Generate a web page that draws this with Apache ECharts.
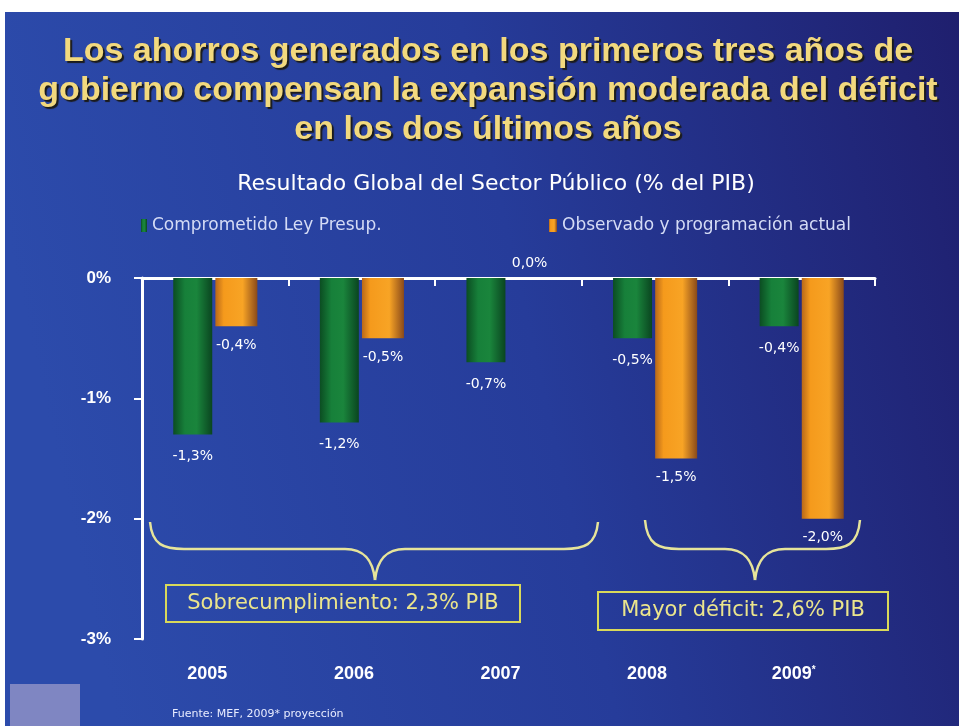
<!DOCTYPE html>
<html>
<head>
<meta charset="utf-8">
<script src="https://cdn.jsdelivr.net/npm/echarts@6/dist/echarts.min.js"></script>
<style>
html, body { margin: 0; padding: 0; background: #fff; }
#chart { width: 959px; height: 726px; }
</style>
</head>
<body>
<div id="chart"></div>
<script>
// data
var years = ['2005', '2006', '2007', '2008', '2009*'];
var comprometido = [-1.3, -1.2, -0.7, -0.5, -0.4];
var observado = [-0.4, -0.5, 0.0, -1.5, -2.0];
var yTicks = [0, -1, -2, -3];

var chart = echarts.init(document.getElementById('chart'));
var wide = '"DejaVu Sans", Verdana, sans-serif';
var arial = '"Liberation Sans", Arial, sans-serif';

function pct(v) {
    return v.toFixed(1).replace('.', ',') + '%';
}

// curly brace built from bezier pieces (annotation only)
function brace(xa, xb, xm, yTop, yMid, yTip) {
    var st = { stroke: '#e6e49a', lineWidth: 2.5, fill: null };
    return [
        { type: 'bezierCurve', shape: { x1: xa, y1: yTop, cpx1: xa + 2, cpy1: yMid - 4, cpx2: xa + 14, cpy2: yMid, x2: xa + 34, y2: yMid }, style: st },
        { type: 'line', shape: { x1: xa + 34, y1: yMid, x2: xm - 30, y2: yMid }, style: st },
        { type: 'bezierCurve', shape: { x1: xm - 30, y1: yMid, cpx1: xm - 10, cpy1: yMid, cpx2: xm - 2, cpy2: yMid + 12, x2: xm, y2: yTip }, style: st },
        { type: 'bezierCurve', shape: { x1: xm, y1: yTip, cpx1: xm + 2, cpy1: yMid + 12, cpx2: xm + 10, cpy2: yMid, x2: xm + 30, y2: yMid }, style: st },
        { type: 'line', shape: { x1: xm + 30, y1: yMid, x2: xb - 34, y2: yMid }, style: st },
        { type: 'bezierCurve', shape: { x1: xb - 34, y1: yMid, cpx1: xb - 14, cpy1: yMid, cpx2: xb - 2, cpy2: yMid - 4, x2: xb, y2: yTop }, style: st }
    ];
}

var greenGrad = new echarts.graphic.LinearGradient(0, 0, 1, 0, [
    { offset: 0, color: '#0b4d22' },
    { offset: 0.3, color: '#17803a' },
    { offset: 0.6, color: '#1a853c' },
    { offset: 1, color: '#0a4520' }
]);
var orangeGrad = new echarts.graphic.LinearGradient(0, 0, 1, 0, [
    { offset: 0, color: '#b8681a' },
    { offset: 0.2, color: '#f59a1c' },
    { offset: 0.65, color: '#f8a425' },
    { offset: 1, color: '#8a4a1a' }
]);

var graphics = [
    {
        type: 'rect', z: -10, silent: true,
        shape: { x: 5, y: 12, width: 954, height: 714 },
        style: {
            fill: new echarts.graphic.LinearGradient(0, 0.3, 1, 0, [
                { offset: 0, color: '#2c4bab' },
                { offset: 0.5, color: '#263c9a' },
                { offset: 1, color: '#1f1f6e' }
            ])
        }
    },
    { type: 'rect', z: -5, shape: { x: 10, y: 684, width: 70, height: 42 }, style: { fill: '#7f86c2' } },
    { type: 'rect', shape: { x: 166, y: 585, width: 354, height: 37 }, style: { fill: null, stroke: '#d9d95a', lineWidth: 2 } },
    { type: 'text', x: 343, y: 604, style: { text: 'Sobrecumplimiento: 2,3% PIB', fill: '#ebe58c', font: '21px ' + wide, textAlign: 'center', textVerticalAlign: 'middle' } },
    { type: 'rect', shape: { x: 598, y: 592, width: 290, height: 38 }, style: { fill: null, stroke: '#d9d95a', lineWidth: 2 } },
    { type: 'text', x: 743, y: 611, style: { text: 'Mayor déficit: 2,6% PIB', fill: '#ebe58c', font: '21px ' + wide, textAlign: 'center', textVerticalAlign: 'middle' } },
    { type: 'text', x: 172, y: 714, style: { text: 'Fuente: MEF, 2009* proyección', fill: '#e8ecff', font: '11px ' + wide, textVerticalAlign: 'middle' } }
].concat(brace(150, 598, 375, 522, 549, 580)).concat(brace(645, 860, 755, 520, 549, 580));

chart.setOption({
    backgroundColor: '#ffffff',
    animation: false,
    title: [
        {
            text: 'Los ahorros generados en los primeros tres años de\ngobierno compensan la expansión moderada del déficit\nen los dos últimos años',
            left: 483,
            top: 27,
            textAlign: 'center',
            textStyle: {
                color: '#f2d97e',
                fontFamily: arial,
                fontSize: 34,
                fontWeight: 'bold',
                lineHeight: 39,
                align: 'center',
                textShadowColor: '#1a1a1a',
                textShadowOffsetX: 2,
                textShadowOffsetY: 2,
                textShadowBlur: 1
            }
        },
        {
            text: 'Resultado Global del Sector Público (% del PIB)',
            left: 491,
            top: 168,
            textAlign: 'center',
            textStyle: {
                color: '#ffffff',
                fontFamily: wide,
                fontSize: 22,
                fontWeight: 'normal'
            }
        }
    ],
    legend: [
        {
            data: ['Comprometido Ley Presup.'],
            left: 136, top: 212,
            icon: 'rect', itemWidth: 6, itemHeight: 13, itemGap: 4,
            textStyle: { color: '#d4dbf5', fontSize: 17, fontFamily: wide }
        },
        {
            data: ['Observado y programación actual'],
            left: 544, top: 212,
            icon: 'rect', itemWidth: 8, itemHeight: 13,
            textStyle: { color: '#d4dbf5', fontSize: 17, fontFamily: wide }
        }
    ],
    grid: { left: 142, right: 84, top: 278, bottom: 87 },
    xAxis: [
        {
            type: 'category',
            data: years,
            position: 'top',
            axisLine: { lineStyle: { color: '#ffffff', width: 3 } },
            axisTick: { show: true, inside: true, length: 8, lineStyle: { color: '#ffffff', width: 2 } },
            axisLabel: { show: false }
        },
        {
            type: 'category',
            data: years,
            position: 'bottom',
            axisLine: { show: false, onZero: false },
            axisTick: { show: false },
            axisLabel: {
                color: '#ffffff',
                fontSize: 18,
                fontWeight: 'bold',
                fontFamily: arial,
                margin: 26,
                padding: [0, 16, 0, 0],
                formatter: function (v) {
                    return v.indexOf('*') > 0 ? v.replace('*', '') + '{s|*}' : v;
                },
                rich: { s: { fontSize: 10, color: '#ffffff', verticalAlign: 'top' } }
            }
        }
    ],
    yAxis: {
        type: 'value',
        min: yTicks[3],
        max: yTicks[0],
        interval: 1,
        splitLine: { show: false },
        axisLine: { show: true, lineStyle: { color: '#ffffff', width: 3 } },
        axisTick: { show: true, length: 8, lineStyle: { color: '#ffffff', width: 2 } },
        axisLabel: {
            color: '#ffffff',
            fontSize: 17,
            fontWeight: 'bold',
            fontFamily: arial,
            margin: 31,
            formatter: function (v) { return v + '%'; }
        }
    },
    series: [
        {
            name: 'Comprometido Ley Presup.',
            type: 'bar',
            xAxisIndex: 0,
            data: comprometido,
            barWidth: 39,
            barGap: '8%',
            itemStyle: { color: greenGrad },
            label: {
                show: true, position: 'bottom', distance: 15,
                color: '#ffffff', fontSize: 14, fontFamily: wide,
                formatter: function (p) { return pct(p.value); }
            }
        },
        {
            name: 'Observado y programación actual',
            type: 'bar',
            xAxisIndex: 0,
            data: observado.map(function (v) {
                return v === 0 ? { value: v, label: { position: 'top', distance: 8 } } : v;
            }),
            barWidth: 42,
            itemStyle: { color: orangeGrad },
            label: {
                show: true, position: 'bottom', distance: 12,
                color: '#ffffff', fontSize: 14, fontFamily: wide,
                formatter: function (p) { return pct(p.value); }
            }
        }
    ],
    graphic: graphics
});
</script>
</body>
</html>
